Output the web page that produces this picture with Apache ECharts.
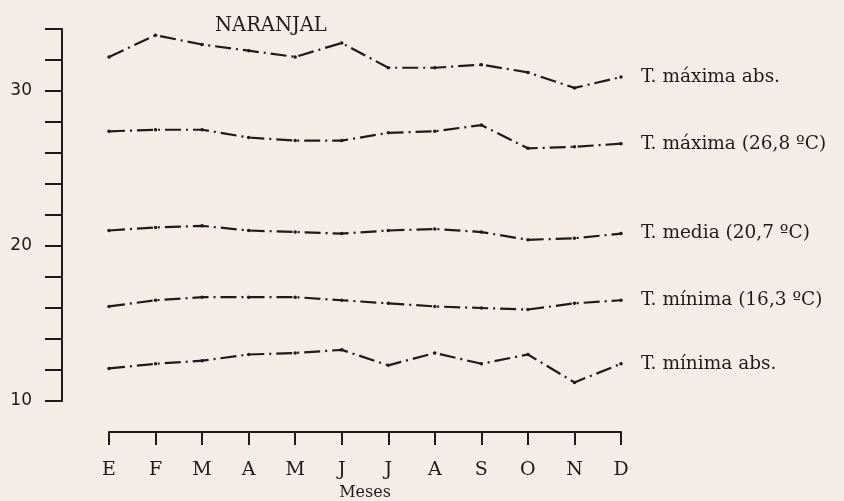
<!DOCTYPE html>
<html>
<head>
<meta charset="utf-8">
<script src="https://cdn.jsdelivr.net/npm/echarts@6/dist/echarts.min.js"></script>
<style>
  html, body { margin: 0; padding: 0; background: #f4ece7; }
  #chart { width: 844px; height: 501px; }
</style>
</head>
<body>
<div id="chart"></div>
<script>
// months along the bottom
const months = ['E', 'F', 'M', 'A', 'M', 'J', 'J', 'A', 'S', 'O', 'N', 'D'];

// monthly temperatures (ºC)
const maxAbs = [32.2, 33.6, 33.0, 32.6, 32.2, 33.1, 31.5, 31.5, 31.7, 31.2, 30.2, 30.9];
const maxMean = [27.4, 27.5, 27.5, 27.0, 26.8, 26.8, 27.3, 27.4, 27.8, 26.3, 26.4, 26.6];
const meanTemp = [21.0, 21.2, 21.3, 21.0, 20.9, 20.8, 21.0, 21.1, 20.9, 20.4, 20.5, 20.8];
const minMean = [16.1, 16.5, 16.7, 16.7, 16.7, 16.5, 16.3, 16.1, 16.0, 15.9, 16.3, 16.5];
const minAbs = [12.1, 12.4, 12.6, 13.0, 13.1, 13.3, 12.3, 13.1, 12.4, 13.0, 11.2, 12.4];

const seriesNames = [
    'T. máxima abs.',
    'T. máxima (26,8 ºC)',
    'T. media (20,7 ºC)',
    'T. mínima (16,3 ºC)',
    'T. mínima abs.'
];

const ink = '#1d1b1b';
const serif = 'DejaVu Serif';

function makeSeries(name, data) {
    return {
        name: name,
        type: 'line',
        data: data,
        symbol: 'circle',
        symbolSize: 3.5,
        itemStyle: { color: ink },
        lineStyle: { color: ink, width: 2.2, type: [16, 5, 2, 5] },
        animation: false,
        endLabel: {
            show: true,
            formatter: '{a}',
            distance: 20,
            color: ink,
            fontFamily: serif,
            fontSize: 18.5
        }
    };
}

const chart = echarts.init(document.getElementById('chart'));

chart.setOption({
    backgroundColor: '#f4ece7',
    title: {
        text: 'NARANJAL',
        left: 210,
        top: 11,
        textStyle: { fontFamily: serif, fontSize: 19.5, fontWeight: 'normal', color: ink }
    },
    // keep the plot box fixed, labels sit outside it
    grid: { left: 109, right: 223, top: 29, bottom: 100, outerBoundsMode: 'none' },
    xAxis: {
        type: 'category',
        data: months,
        boundaryGap: false,
        offset: 31,
        axisLine: { lineStyle: { color: ink, width: 2 } },
        axisTick: { length: 13, lineStyle: { color: ink, width: 2 } },
        axisLabel: { margin: 29, color: ink, fontFamily: serif, fontSize: 19 },
        name: 'Meses',
        nameLocation: 'middle',
        nameGap: 53,
        nameTextStyle: { color: ink, fontFamily: serif, fontSize: 16 }
    },
    yAxis: {
        type: 'value',
        min: 10,
        max: 34,
        interval: 2,
        offset: 47,
        axisLine: { show: true, lineStyle: { color: ink, width: 2 } },
        axisTick: { show: true, length: 17, lineStyle: { color: ink, width: 2 } },
        axisLabel: {
            margin: 30,
            color: ink,
            fontFamily: 'DejaVu Sans',
            fontSize: 17,
            formatter: v => (v % 10 === 0 ? String(v) : '')
        },
        splitLine: { show: false }
    },
    series: [
        makeSeries(seriesNames[0], maxAbs),
        makeSeries(seriesNames[1], maxMean),
        makeSeries(seriesNames[2], meanTemp),
        makeSeries(seriesNames[3], minMean),
        makeSeries(seriesNames[4], minAbs)
    ]
});
</script>
</body>
</html>
